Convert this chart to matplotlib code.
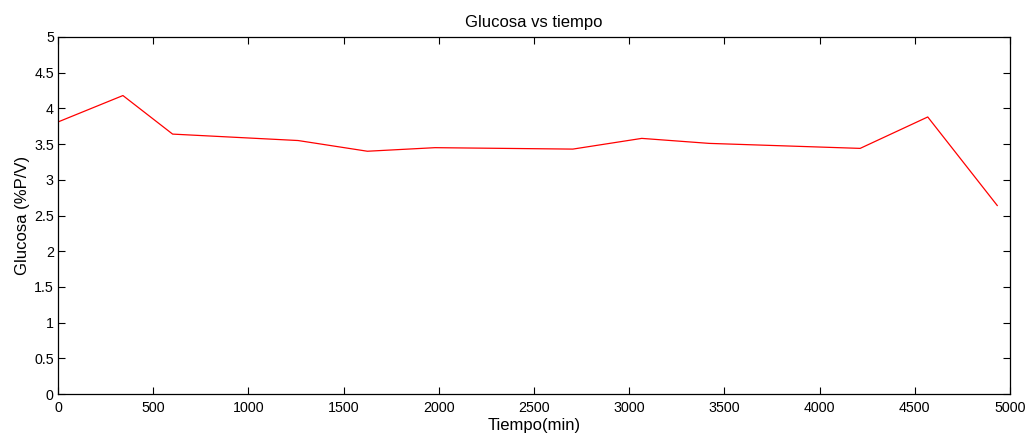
import matplotlib
matplotlib.use("Agg")
import matplotlib.pyplot as plt

tiempo = [0, 341, 602, 1261, 1625, 1980, 2704, 3066, 3420, 4213, 4568, 4933]
glucosa = [3.81, 4.18, 3.64, 3.55, 3.40, 3.45, 3.43, 3.58, 3.51, 3.44, 3.88, 2.64]
xticks = [0, 500, 1000, 1500, 2000, 2500, 3000, 3500, 4000, 4500, 5000]
yticks = [0, 0.5, 1, 1.5, 2, 2.5, 3, 3.5, 4, 4.5, 5]

plt.rcParams['font.family'] = ['Liberation Sans', 'DejaVu Sans']

fig = plt.figure(figsize=(10.29, 4.38), dpi=100)
ax = fig.add_axes([58/1029, 44/438, (1010-58)/1029, (394-37)/438])
ax.plot(tiempo, glucosa, color='red', linewidth=0.9)
ax.set_xlim(0, 5000)
ax.set_ylim(0, 5)
ax.set_xticks(xticks)
ax.set_yticks(yticks)
ax.set_xticklabels([str(v) for v in xticks])
ax.set_yticklabels(['0', '0.5', '1', '1.5', '2', '2.5', '3', '3.5', '4', '4.5', '5'])
ax.tick_params(direction='in', top=True, right=True, length=5, width=0.8, labelsize=10.3, pad=3)
ax.tick_params(axis='x', pad=5)
for s in ax.spines.values():
    s.set_linewidth(0.9)
ax.set_title('Glucosa vs tiempo', fontsize=12, pad=7)
ax.set_xlabel('Tiempo(min)', fontsize=12, labelpad=2.5)
ax.set_ylabel('Glucosa (%P/V)', fontsize=12, labelpad=3)
fig.savefig('out.png', dpi=100)
